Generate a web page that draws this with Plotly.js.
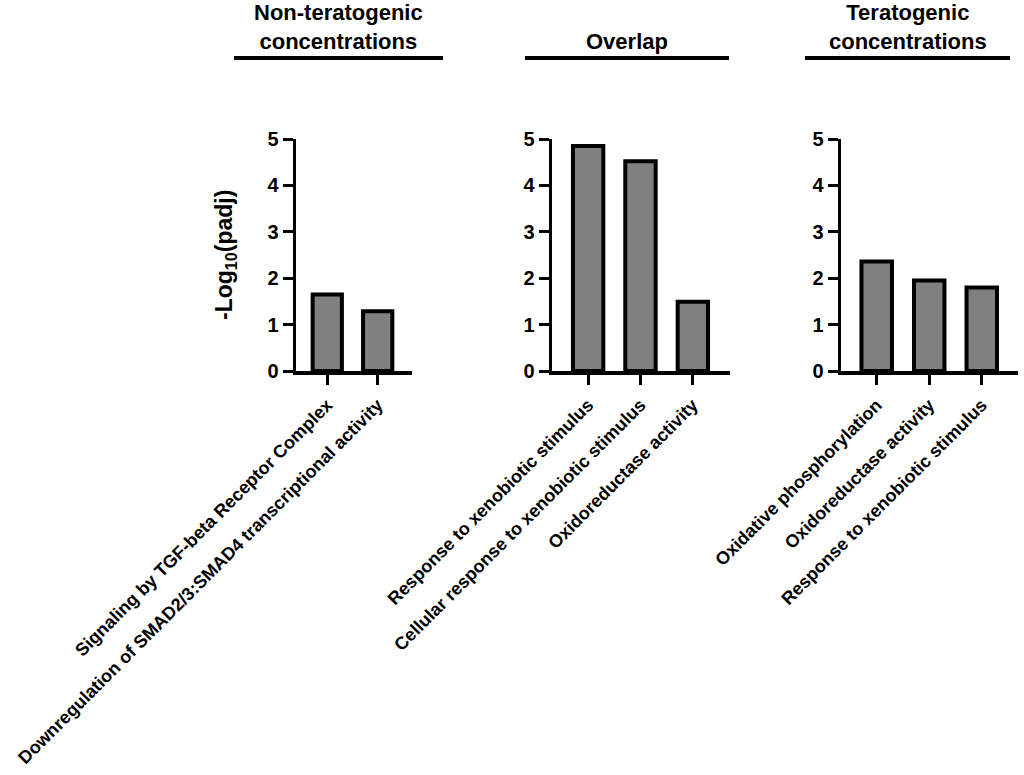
<!DOCTYPE html>
<html>
<head>
<meta charset="utf-8">
<script src="https://cdn.plot.ly/plotly-3.0.1.min.js"></script>
<style>
  html, body { margin: 0; padding: 0; background: #fff; }
  #chart { width: 1024px; height: 775px; }
</style>
</head>
<body>
<div id="chart"></div>
<script>
// values: -log10(padj) per enriched term
var panelTitles = ['Non-teratogenic<br>concentrations', 'Overlap', 'Teratogenic<br>concentrations'];

var nonTeratoTerms = ['Signaling by TGF-beta Receptor Complex',
                      'Downregulation of SMAD2/3:SMAD4 transcriptional activity'];
var nonTeratoValues = [1.65, 1.29];

var overlapTerms = ['Response to xenobiotic stimulus',
                    'Cellular response to xenobiotic stimulus',
                    'Oxidoreductase activity'];
var overlapValues = [4.85, 4.52, 1.49];

var teratoTerms = ['Oxidative phosphorylation',
                   'Oxidoreductase activity',
                   'Response to xenobiotic stimulus'];
var teratoValues = [2.36, 1.95, 1.80];

var yTitle = '-Log<sub>10</sub>(padj)';

var FONT = 'Liberation Sans, Arial, Helvetica, sans-serif';
var W = 1024, H = 775;
function px(x) { return x / W; }
function py(y) { return 1 - y / H; }

var groups = [
  {terms: nonTeratoTerms, vals: nonTeratoValues, dom: [296, 412], range: [-0.62, 1.68], line: [234, 443]},
  {terms: overlapTerms, vals: overlapValues, dom: [552, 730], range: [-0.69, 2.71], line: [525, 729]},
  {terms: teratoTerms, vals: teratoValues, dom: [841, 1018], range: [-0.68, 2.69], line: [805, 1010]}
];

var data = [];
var layout = {
  width: W, height: H,
  margin: {l: 0, r: 0, t: 0, b: 0},
  paper_bgcolor: '#fff', plot_bgcolor: '#fff',
  showlegend: false,
  font: {family: FONT, color: '#000'},
  shapes: [],
  annotations: []
};

groups.forEach(function(g, i) {
  var n = i == 0 ? '' : String(i + 1);
  data.push({
    type: 'bar',
    x: g.terms,
    y: g.vals,
    xaxis: 'x' + n,
    yaxis: 'y' + n,
    width: 0.58,
    marker: {color: '#808080', line: {color: '#000', width: 4}},
    hoverinfo: 'x+y'
  });
  layout['xaxis' + n] = {
    domain: [px(g.dom[0]), px(g.dom[1])],
    anchor: 'y' + n,
    type: 'category',
    range: g.range,
    showline: true, linecolor: '#000', linewidth: 3.5,
    ticks: 'outside', ticklen: 10, tickwidth: 3, tickcolor: '#000',
    tickangle: -45,
    ticklabelstandoff: 3,
    tickfont: {family: FONT, size: 18, weight: 'bold', color: '#000'},
    showgrid: false, zeroline: false, automargin: false, fixedrange: true
  };
  layout['yaxis' + n] = {
    domain: [py(371), py(139)],
    anchor: 'x' + n,
    range: [0, 5],
    dtick: 1,
    showline: true, linecolor: '#000', linewidth: 3.5,
    ticks: 'outside', ticklen: 10, tickwidth: 3, tickcolor: '#000',
    tickfont: {family: FONT, size: 20, weight: 'bold', color: '#000'},
    showgrid: false, zeroline: false, automargin: false, fixedrange: true
  };
  // header bar + label above each panel
  layout.shapes.push({
    type: 'line', xref: 'paper', yref: 'paper',
    x0: px(g.line[0]), x1: px(g.line[1]), y0: py(58), y1: py(58),
    line: {color: '#000', width: 4}
  });
  layout.annotations.push({
    xref: 'paper', yref: 'paper',
    x: px((g.line[0] + g.line[1]) / 2), y: py(56),
    xanchor: 'center', yanchor: 'bottom',
    text: '<b>' + panelTitles[i] + '</b>',
    showarrow: false,
    font: {family: FONT, size: 22, color: '#000'}
  });
});

layout.annotations.push({
  xref: 'paper', yref: 'paper',
  x: px(225), y: py(255),
  xanchor: 'center', yanchor: 'middle',
  textangle: -90,
  text: '<b>' + yTitle + '</b>',
  showarrow: false,
  font: {family: FONT, size: 23, color: '#000'}
});

Plotly.newPlot('chart', data, layout, {displayModeBar: false, staticPlot: true});
</script>
</body>
</html>
